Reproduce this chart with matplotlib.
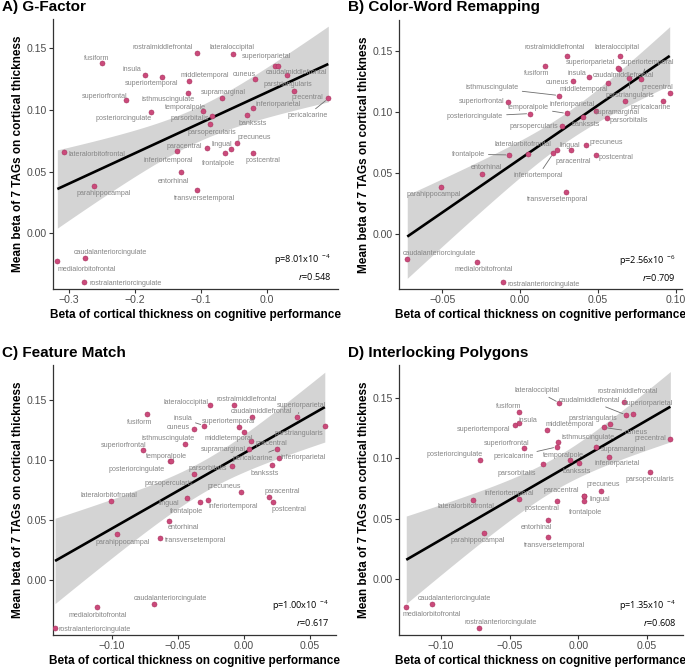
import numpy as np
import matplotlib
matplotlib.use("Agg")
import matplotlib.pyplot as plt

plt.rcParams['font.family'] = ['Liberation Sans', 'DejaVu Sans']
plt.rcParams['mathtext.fontset'] = 'custom'
plt.rcParams['mathtext.rm'] = 'Open Sans'
plt.rcParams['mathtext.it'] = 'Open Sans:italic'

# ---- data -------------------------------------------------------------
regions = ["bankssts", "caudalanteriorcingulate", "caudalmiddlefrontal", "cuneus",
           "entorhinal", "fusiform", "inferiorparietal", "inferiortemporal",
           "isthmuscingulate", "lateraloccipital", "lateralorbitofrontal", "lingual",
           "medialorbitofrontal", "middletemporal", "parahippocampal", "paracentral",
           "parsopercularis", "parsorbitalis", "parstriangularis", "pericalcarine",
           "postcentral", "posteriorcingulate", "precentral", "precuneus",
           "rostralanteriorcingulate", "rostralmiddlefrontal", "superiorfrontal",
           "superiorparietal", "superiortemporal", "supramarginal", "frontalpole",
           "temporalpole", "transversetemporal", "insula"]

# mean beta of 7 TAGs on cortical thickness (same in every panel)
tag_beta = [0.0959, -0.0204, 0.1355, 0.1253, 0.0493, 0.138, 0.1012, 0.0663,
            0.1135, 0.1455, 0.0655, 0.0685, -0.0227, 0.1234, 0.0386, 0.0691,
            0.0883, 0.0948, 0.128, 0.1093, 0.0648, 0.0987, 0.1154, 0.0732,
            -0.0397, 0.146, 0.108, 0.136, 0.127, 0.1094, 0.0648, 0.0988,
            0.0348, 0.1286]

g_factor = [-0.0292, -0.2753, 0.012, -0.0182, -0.1296, -0.2501, -0.0202, -0.1361,
            -0.1185, -0.0509, -0.3076, -0.054, -0.3171, -0.117, -0.2622, -0.0903,
            -0.0862, -0.0832, 0.0313, 0.0933, -0.0207, -0.1755, 0.0408, -0.0444,
            -0.2763, -0.1049, -0.2128, 0.0176, -0.1589, -0.068, -0.0626, -0.0958,
            -0.1049, -0.185]

color_word = [0.0401, -0.0725, 0.0637, 0.0339, -0.0245, 0.0157, 0.0485, 0.0214,
              0.0251, 0.0639, 0.0049, 0.0326, -0.0277, 0.0564, -0.051, 0.0238,
              0.0272, 0.0558, 0.0699, 0.0916, 0.0487, 0.0064, 0.0961, 0.0423,
              -0.0107, 0.0302, -0.0075, 0.0629, 0.0779, 0.0671, -0.0069, 0.030,
              0.0294, 0.044]

feature_match = [0.0212, -0.0683, 0.0065, -0.0379, -0.0567, -0.0732, 0.0268, -0.027,
                 -0.0446, -0.0255, -0.1008, -0.0433, -0.1111, 0.0003, -0.0964, 0.0193,
                 -0.0374, -0.0085, 0.0616, 0.0256, 0.022, -0.0556, 0.0054, -0.0018,
                 -0.1431, -0.0074, -0.0763, 0.0405, -0.0036, 0.0044, -0.0332, -0.0554,
                 -0.0634, -0.0301]

polygons = [0.0005, -0.1063, 0.035, 0.0187, -0.0218, -0.0432, 0.0223, -0.0429,
            -0.0148, -0.0138, -0.0764, 0.0045, -0.1252, -0.023, -0.0684, 0.0039,
            0.052, -0.0257, 0.0231, -0.0155, -0.0153, -0.0718, 0.067, 0.0163,
            -0.0723, 0.0333, -0.0397, 0.0398, -0.0458, 0.0131, 0.0045, -0.006,
            -0.0221, -0.0434]

titles = ["A) G-Factor", "B) Color-Word Remapping", "C) Feature Match", "D) Interlocking Polygons"]
p_mant = ["8.01", "2.56", "1.00", "1.35"]
p_exp = ["-4", "-6", "-4", "-4"]
r_vals = ["0.548", "0.709", "0.617", "0.608"]

# ---- label placement (pixel offsets from point, y up) -----------------
offsets_a = {
    "rostralmiddlefrontal": (-35, 5.7), "lateraloccipital": (-0.7, 6),
    "superiorparietal": (-11.7, 9.3), "caudalmiddlefrontal": (22, -6),
    "fusiform": (-4.7, 4.3), "insula": (-12.3, 5.3), "superiortemporal": (-10, -7.3),
    "middletemporal": (15, 5.3), "cuneus": (-10.7, 4.7), "parstriangularis": (1, -8.7),
    "precentral": (13.7, -6.3), "pericalcarine": (-21, -17), "supramarginal": (1.7, 6),
    "superiorfrontal": (-22, 4), "isthmuscingulate": (-20.7, -6),
    "temporalpole": (-17.7, 3.7), "inferiorparietal": (24.7, 4.3),
    "posteriorcingulate": (-27.3, -7.3), "parsorbitalis": (-21.7, -2.3),
    "bankssts": (5.3, -9), "parsopercularis": (1.7, -8.3), "precuneus": (17, 5.3),
    "lingual": (-9.3, 4), "paracentral": (-23.3, 1.3), "lateralorbitofrontal": (33.3, -1.7),
    "inferiortemporal": (-9, -8.7), "frontalpole": (-7, -10), "postcentral": (9.7, -7.3),
    "entorhinal": (-7.7, -9), "transversetemporal": (6.7, -8.3),
    "parahippocampal": (10, -8), "caudalanteriorcingulate": (26, 5.7),
    "medialorbitofrontal": (29, -8.3), "rostralanteriorcingulate": (41, -1.7)}
offsets_b = {
    "rostralmiddlefrontal": (-12, 8), "lateraloccipital": (-2.7, 8.7),
    "superiorparietal": (-28, 5.7), "superiortemporal": (5.7, 17), "fusiform": (-7.7, -8.3),
    "insula": (-11.7, 3.3), "caudalmiddlefrontal": (4.3, -7.3), "cuneus": (-15.3, -1),
    "middletemporal": (-24.3, -6.3), "isthmuscingulate": (-67, 7.7),
    "precentral": (-12.7, 5.3), "parstriangularis": (1.3, -17.3),
    "superiorfrontal": (-27.3, 1), "pericalcarine": (-11.7, -6.7),
    "inferiorparietal": (-23, 6), "supramarginal": (-7.7, -11.7),
    "temporalpole": (-38.3, 6), "posteriorcingulate": (-55, -2.7),
    "parsorbitalis": (21.7, -2), "bankssts": (2.7, -7.7), "parsopercularis": (-29, 0),
    "precuneus": (20, 2), "lingual": (-0.7, 5.3), "lateralorbitofrontal": (-5, 9.7),
    "frontalpole": (-41, 0.7), "postcentral": (20.3, -3), "paracentral": (15.7, -11.7),
    "inferiortemporal": (-15, -22.3), "entorhinal": (4.7, 6.3),
    "parahippocampal": (-7.3, -8), "transversetemporal": (-8.3, -8.3),
    "caudalanteriorcingulate": (31.7, 5.3), "medialorbitofrontal": (7, -7.7),
    "rostralanteriorcingulate": (40, -2)}
offsets_c = {
    "lateraloccipital": (-23.7, 2.7), "rostralmiddlefrontal": (12.7, 5.3),
    "superiorparietal": (4.7, 11), "caudalmiddlefrontal": (9.7, 5.3), "fusiform": (-8, -8.7),
    "insula": (-21.3, 6.7), "superiortemporal": (-10.7, 5.7), "cuneus": (-15, 1.7),
    "parstriangularis": (-26, -7.3), "isthmuscingulate": (-16.3, 5.3),
    "middletemporal": (-15.7, -6.7), "precentral": (21, -1.7), "supramarginal": (-26, -0.7),
    "superiorfrontal": (-20, 4.3), "pericalcarine": (-25, -10),
    "inferiorparietal": (24, 1.3), "temporalpole": (-3.7, 4.7),
    "posteriorcingulate": (-33.7, -8), "bankssts": (-7, -8.7), "parsorbitalis": (-24.3, -2.3),
    "parsopercularis": (-25.3, -9.7), "precuneus": (-17.3, 5.7), "paracentral": (13.3, 5.3),
    "lateralorbitofrontal": (-2.3, 6), "lingual": (-17.7, -5.3), "frontalpole": (-13.3, -9.3),
    "inferiortemporal": (24.7, -5.7), "postcentral": (16.3, -7.3), "entorhinal": (14.3, -6.3),
    "parahippocampal": (6, -8.7), "transversetemporal": (35, -2.3),
    "caudalanteriorcingulate": (17, 6), "medialorbitofrontal": (0.7, -8.3),
    "rostralanteriorcingulate": (39.7, -1.7)}
offsets_d = {
    "lateraloccipital": (-22.7, 12.3), "rostralmiddlefrontal": (3.3, 11.3),
    "caudalmiddlefrontal": (-37.3, 14.7), "superiorparietal": (15.3, 10.7),
    "fusiform": (-10, 6), "insula": (9, 3.3), "superiortemporal": (-32, -4),
    "middletemporal": (23.3, 5), "parstriangularis": (-16.7, 5.3), "cuneus": (32.7, -4.7),
    "precentral": (-20.3, 1), "isthmuscingulate": (30.3, 4), "superiorfrontal": (-17, 5),
    "pericalcarine": (-43.7, -10), "supramarginal": (27, -2.3),
    "posteriorcingulate": (-24.7, 5), "temporalpole": (-6.7, 4.3),
    "inferiorparietal": (7.7, -7), "bankssts": (-2.3, -8), "parsorbitalis": (-26.3, -8.7),
    "parsopercularis": (0.3, -7.3), "precuneus": (2.7, 5.7), "paracentral": (-22, 5),
    "lingual": (15.6, -3.3), "frontalpole": (0.7, -12), "postcentral": (-15, -8),
    "inferiortemporal": (-10, 5.3), "lateralorbitofrontal": (-7.3, -7),
    "entorhinal": (-12.3, -8.3), "parahippocampal": (-7, -7.7),
    "transversetemporal": (7, -8), "caudalanteriorcingulate": (22, 5.7),
    "medialorbitofrontal": (25.3, -8), "rostralanteriorcingulate": (22, 5.3)}

segments = [{"pericalcarine"},
            {"superiortemporal", "isthmuscingulate", "parstriangularis", "temporalpole",
             "posteriorcingulate", "frontalpole", "inferiortemporal"},
            {"superiorparietal", "insula", "pericalcarine"},
            {"lateraloccipital", "rostralmiddlefrontal", "caudalmiddlefrontal", "cuneus",
             "pericalcarine"}]

# panel boxes in pixels: left, top, right, bottom
W, H = 685, 667
boxes = [(52.7, 19.3, 338, 289), (398.7, 20, 682, 289.3),
         (52.7, 365, 336, 635), (398.7, 365, 683, 635)]
xlims = [(-0.3241, 0.108), (-0.078, 0.104), (-0.1449, 0.0701), (-0.1307, 0.0762)]
ylims = [(-0.0452, 0.1735), (-0.0453, 0.1754), (-0.0458, 0.179), (-0.0458, 0.1768)]
xticks = [[-0.3, -0.2, -0.1, 0.0], [-0.05, 0.0, 0.05, 0.10],
          [-0.10, -0.05, 0.0, 0.05], [-0.10, -0.05, 0.0, 0.05]]
xtick_fmt = ["{:.1f}", "{:.2f}", "{:.2f}", "{:.2f}"]

point_col = '#CB4A7B'
point_edge = '#A93560'
label_col = '#858585'
axis_col = '#333333'
tick_text = '#4D4D4D'

fig = plt.figure(figsize=(W / 100, H / 100), dpi=100)

xs_all = [g_factor, color_word, feature_match, polygons]
offs_all = [offsets_a, offsets_b, offsets_c, offsets_d]
y = np.array(tag_beta)

for i in range(4):
    l, t, r, b = boxes[i]
    ax = fig.add_axes([l / W, 1 - b / H, (r - l) / W, (b - t) / H])
    x = np.array(xs_all[i])

    # linear fit with 95% confidence band
    n = len(x)
    slope, icpt = np.polyfit(x, y, 1)
    resid = y - (slope * x + icpt)
    s = np.sqrt(np.sum(resid ** 2) / (n - 2))
    xg = np.linspace(x.min(), x.max(), 200)
    se = s * np.sqrt(1 / n + (xg - x.mean()) ** 2 / np.sum((x - x.mean()) ** 2))
    tcrit = 2.037
    fit = slope * xg + icpt
    ax.fill_between(xg, fit - tcrit * se, fit + tcrit * se, color='#D4D4D4', lw=0, zorder=1)
    ax.plot(xg, fit, color='black', lw=1.9, zorder=3, solid_capstyle='butt')

    ax.scatter(x, y, s=13, color=point_col, edgecolors=point_edge, linewidths=0.4, zorder=4)

    offs = offs_all[i]
    for name, xv, yv in zip(regions, x, y):
        dx, dy = offs.get(name, (0, 6))
        kw = {}
        if name in segments[i]:
            kw['arrowprops'] = dict(arrowstyle='-', color='#6E6E6E', lw=0.6,
                                    shrinkA=0.5, shrinkB=2.5)
        ax.annotate(name, (xv, yv), xytext=(dx, dy), textcoords='offset pixels',
                    ha='center', va='center', fontsize=5.1, color=label_col,
                    zorder=5, **kw)

    ax.set_xlim(*xlims[i])
    ax.set_ylim(*ylims[i])
    ax.set_xticks(xticks[i])
    ax.set_xticklabels([xtick_fmt[i].format(v).replace('-', '\u2212') for v in xticks[i]])
    ax.set_yticks([0.0, 0.05, 0.10, 0.15])
    ax.set_yticklabels(["0.00", "0.05", "0.10", "0.15"])
    for side in ['top', 'right']:
        ax.spines[side].set_visible(False)
    for side in ['left', 'bottom']:
        ax.spines[side].set_color(axis_col)
        ax.spines[side].set_linewidth(0.9)
    ax.tick_params(length=2.6, width=0.8, color=axis_col, labelcolor=tick_text,
                   labelsize=7.6, pad=1.5)

    ax.text(0.978, 0.107, "p=" + p_mant[i] + "x10$^{\\ " + p_exp[i] + "}$",
            transform=ax.transAxes, ha='right', va='center', fontsize=6.6,
            family='Open Sans', color='black', zorder=6)
    ax.text(0.978, 0.045, "$r$=" + r_vals[i], transform=ax.transAxes, ha='right',
            va='center', fontsize=6.6, family='Open Sans', color='black', zorder=6)

    # panel title and axis titles
    fig.text((l - 51) / W, 1 - (t - 12.5) / H, titles[i], ha='left', va='center',
             fontsize=11, fontweight='bold')
    fig.text((l + r) / 2 / W, 1 - (b + 26) / H,
             "Beta of cortical thickness on cognitive performance",
             ha='center', va='center', fontsize=8.5, fontweight='bold')
    fig.text((l - 35) / W, 1 - (t + b) / 2 / H,
             "Mean beta of 7 TAGs on cortical thickness", rotation=90,
             ha='center', va='center', fontsize=8.5, fontweight='bold')

fig.savefig("out.png", dpi=100)
